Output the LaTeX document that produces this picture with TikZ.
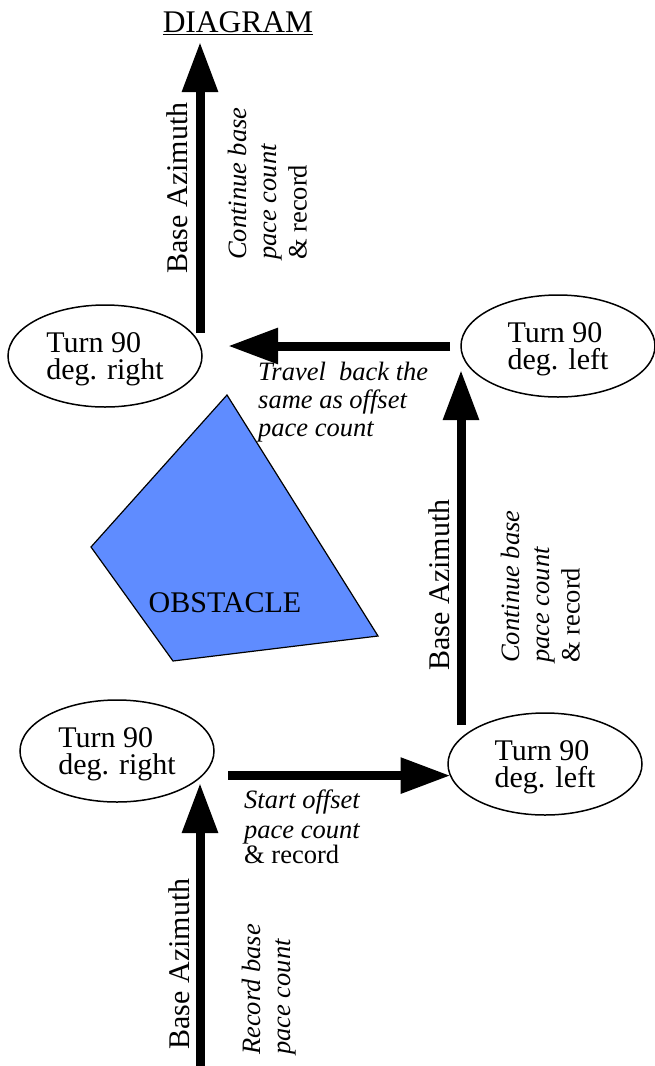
\documentclass[tikz,border=0pt]{standalone}
\usepackage{fontspec}
\setmainfont{Liberation Serif}
\usetikzlibrary{arrows.meta,shapes.geometric,positioning}

\definecolor{obstblue}{RGB}{95,140,255}

\begin{document}
\begin{tikzpicture}[x = 1pt, y = -1pt,
  turnbox/.style = {draw, ellipse, line width=1.5pt, outer sep=0pt, inner sep=0pt, minimum width=194pt, minimum height=102pt, text depth=0pt, align=left, font=\fontsize{30}{27}\selectfont},
  pacearrow/.style = {line width=9pt, -{Triangle[length=50pt,width=34pt]}},
  notetext/.style = {inner sep=0pt, align=left, font=\fontsize{26.5}{30}\selectfont\itshape},
  azimuth/.style = {inner sep=0pt, rotate=90, anchor=south, font=\fontsize{30}{30}\selectfont}]
\useasboundingbox (0,0) rectangle (655,1066);
\node[anchor=base, font=\fontsize{31.5}{31.5}\selectfont] (title) at (238,32) {\underline{DIAGRAM}};
\node[turnbox] (rightA) at (117,751) {Turn 90\\deg. right};
\node[turnbox] (leftA) at (545,764) {Turn 90\\deg. left};
\node[turnbox] (leftB) at (558,346) {Turn 90\\deg. left};
\node[turnbox] (rightB) at (105,356) {Turn 90\\deg. right};
\draw[fill=obstblue, line width=1.2pt] (227,395) -- (91,547) -- (173,661) -- (378,636) -- cycle;
\node[anchor=base, font=\fontsize{30}{30}\selectfont] (obst) at (225,612) {OBSTACLE};
\coordinate (base) at (200,1066);
\draw[pacearrow] (base) -- ([shift={(-14pt,-32pt)}]rightA.east);
\draw[pacearrow, shorten <=14pt] (rightA.east |- leftA.187) -- (leftA.187);
\draw[pacearrow] ([yshift=-12pt]leftB.west |- leftA.north) -- ([yshift=-24pt]leftB.west);
\draw[pacearrow] ([xshift=-11pt]leftB.west) -- ([xshift=26pt]rightB.east |- leftB.west);
\draw[pacearrow] ([shift={(-2pt,23pt)}]rightB.east) -- ([shift={(-2pt,314pt)}]rightB.east);
\node[azimuth] (azTop) at (188,188) {Base Azimuth};
\node[azimuth] (azRight) at (450,585) {Base Azimuth};
\node[azimuth] (azBottom) at (190,964) {Base Azimuth};
\node[notetext, rotate=90, anchor=north west] (noteTop) at (228,260) {Continue base\\pace count\\{\upshape\& record}};
\node[notetext, rotate=90, anchor=north west] (noteRight) at (501,663) {Continue base\\pace count\\{\upshape\& record}};
\node[notetext, rotate=90, anchor=north west] (noteBottom) at (242,1055) {Record base\\pace count};
\node[notetext, anchor=north west] (noteStart) at (244,790) {Start offset\\pace count\\[-5pt]{\upshape\& record}};
\node[notetext, anchor=north west] (noteTravel) at (258,362) {Travel\ \ back the\\[-2pt]same as offset\\[-2pt]pace count};
\end{tikzpicture}
\end{document}
